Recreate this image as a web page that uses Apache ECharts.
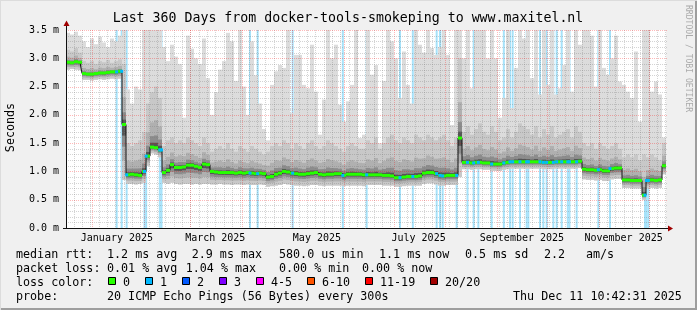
<!DOCTYPE html>
<html><head><meta charset="utf-8">
<script src="https://cdn.jsdelivr.net/npm/echarts@6/dist/echarts.min.js"></script>
<style>html,body{margin:0;padding:0;background:#f0f0f0}#c{width:697px;height:310px}</style>
</head><body><div id="c"></div><script>
// ---------- data ----------
const START = Date.UTC(2024, 11, 16, 10, 42, 31);   // left edge of graph
const SPAN_DAYS = 360;
const STEP = 2.4;                                    // days per smoke column

const median = [
2.93,2.92,2.94,2.93,
2.73,2.72,2.72,2.73,2.74,2.74,2.75,2.76,2.76,2.77,
1.83,
0.94,0.95,0.94,0.93,1.00,
1.27,1.43,1.42,1.38,
0.98,1.02,1.12,1.07,1.07,1.08,1.11,1.11,1.09,1.07,1.13,1.12,
1.00,0.99,0.98,0.98,0.98,0.98,0.97,0.98,0.97,0.98,0.97,0.96,0.97,0.96,
0.90,0.91,0.95,0.97,1.00,0.99,0.97,0.96,0.95,0.95,0.96,0.97,0.98,0.95,0.94,0.95,0.95,0.96,0.96,0.93,0.95,0.95,0.95,0.95,0.94,
0.94,0.94,0.94,0.94,0.93,0.93,0.92,0.89,0.89,0.90,0.91,0.91,0.91,0.92,0.97,0.98,0.98,0.96,0.93,0.92,0.93,0.93,0.93,
1.59,
1.16,1.16,1.15,1.16,1.16,1.15,1.15,1.13,1.13,1.13,1.15,1.16,1.17,1.17,1.17,1.17,1.17,1.17,1.17,1.17,1.16,1.16,1.16,1.17,1.17,1.17,1.17,1.17,1.17,1.18,
1.04,1.03,1.03,1.02,1.03,1.01,1.01,1.05,1.06,1.06,
0.85,0.85,0.84,0.84,0.84,0.58,0.84,0.85,0.84,0.85,1.10
];
const smokeLo = [
2.80,2.81,2.80,2.79,
2.62,2.62,2.61,2.62,2.63,2.62,2.63,2.64,2.63,2.64,
0.85,
0.78,0.78,0.77,0.78,0.80,
1.10,1.32,1.30,1.25,
0.80,0.78,0.80,0.78,0.77,0.78,0.78,0.77,0.78,0.77,0.78,0.78,
0.77,0.77,0.78,0.77,0.77,0.76,0.77,0.77,0.76,0.77,0.76,0.76,0.77,0.76,
0.73,0.74,0.75,0.76,0.78,0.77,0.76,0.75,0.75,0.74,0.75,0.76,0.76,0.75,0.74,0.75,0.75,0.75,0.75,0.74,0.75,0.75,0.75,0.75,0.74,
0.76,0.76,0.76,0.76,0.75,0.75,0.75,0.73,0.73,0.74,0.75,0.75,0.75,0.75,0.78,0.79,0.79,0.77,0.75,0.75,0.76,0.76,0.76,
0.90,
1.04,1.04,1.03,1.04,1.04,1.03,1.03,1.01,1.01,1.01,1.03,1.04,1.05,1.05,1.05,1.05,1.05,1.05,1.05,1.05,1.04,1.04,1.04,1.05,1.05,1.05,1.05,1.05,1.05,1.06,
0.86,0.85,0.85,0.84,0.85,0.83,0.83,0.86,0.87,0.87,
0.71,0.71,0.70,0.70,0.70,0.50,0.70,0.71,0.70,0.71,0.95
];
const smokeHi = [
3.15,3.12,3.18,3.10,
2.95,2.92,2.95,2.90,2.95,2.93,2.97,2.92,2.95,2.98,
2.90,
1.50,1.45,1.50,1.55,1.70,
2.20,2.40,2.50,2.30,
1.45,1.55,1.60,1.50,1.55,1.50,1.60,1.55,1.50,1.45,1.60,1.50,
1.35,1.40,1.45,1.40,1.50,1.40,1.35,1.45,1.40,1.35,1.45,1.40,1.35,1.30,
1.35,1.45,1.50,1.45,1.55,1.50,1.40,1.50,1.45,1.40,1.50,1.55,1.45,1.40,1.45,1.55,1.50,1.45,1.40,1.35,1.45,1.50,1.45,1.40,1.40,
1.55,1.50,1.60,1.40,1.50,1.60,1.65,1.55,1.50,1.60,1.55,1.50,1.65,1.60,1.55,1.65,1.60,1.55,1.60,1.65,1.55,1.45,1.60,
3.00,
1.70,1.80,1.65,1.75,1.85,1.70,1.65,1.80,1.70,1.55,1.60,1.75,1.60,1.70,1.85,1.80,1.75,1.65,1.80,1.60,1.75,1.65,1.80,1.60,1.65,1.70,
1.75,1.60,1.80,1.70,
1.50,1.45,1.50,1.40,1.50,1.45,1.40,1.45,1.50,1.40,
1.25,1.30,1.25,1.30,1.20,1.30,1.25,1.30,1.25,1.20,1.50
];
const smokeMax = [
3.45,3.42,3.47,3.40,
3.30,3.20,3.35,3.25,3.38,3.28,3.20,3.35,3.30,3.40,
3.50,
2.45,2.20,2.50,2.45,3.50,
3.50,3.50,3.50,3.50,
3.20,2.95,3.24,3.03,2.90,1.95,3.40,3.17,3.00,2.90,3.35,2.65,
2.00,2.40,2.80,2.95,3.45,3.30,2.60,3.50,2.50,2.00,3.30,2.70,2.20,1.75,
1.55,2.53,2.77,2.88,2.83,3.50,2.03,3.06,3.06,2.53,2.47,3.24,2.41,1.65,2.27,3.50,3.00,3.24,2.18,1.88,2.24,2.53,3.50,1.59,1.65,
3.50,2.71,2.88,1.50,2.60,3.50,3.30,3.00,2.30,3.12,2.53,2.20,3.50,3.24,3.10,3.50,3.18,3.06,3.20,3.50,3.06,1.82,3.50,
3.50,
3.00,3.50,2.47,3.50,3.50,3.50,3.00,3.50,3.00,1.95,2.30,3.50,2.12,2.83,3.50,3.35,3.50,2.65,3.50,2.36,3.50,2.53,3.50,2.36,2.47,2.88,
3.50,2.41,3.50,3.24,3.50,3.50,3.40,2.50,3.50,2.83,2.71,3.00,3.40,2.59,2.53,2.41,2.30,3.12,1.88,3.50,3.50,2.41,2.59,2.36,1.60
];
// days (since START) of intervals with 1/20 packet loss
const lossDays = [30.4,33.4,36.4,47.1,48.1,56.3,57.3,110.4,115.0,136.0,166.1,180.4,200.4,208.1,222.4,224.4,226.0,234.4,
240.9,244.6,247.4,255.4,262.7,266.4,268.0,272.4,276.4,277.4,284.4,286.4,288.4,292.4,294.4,297.4,301.1,302.1,306.4,319.4,326.4,347.4,348.3,349.4];

const xTickLabels = ['January 2025','March 2025','May 2025','July 2025','September 2025','November 2025'];
const xTickMonths = [[2025,0],[2025,2],[2025,4],[2025,6],[2025,8],[2025,10]];
const monthStarts = [[2025,0],[2025,1],[2025,2],[2025,3],[2025,4],[2025,5],[2025,6],[2025,7],[2025,8],[2025,9],[2025,10],[2025,11]];

const title = 'Last 360 Days from docker-tools-smokeping to www.maxitel.nl';
const statRtt = [['median rtt:',16],['1.2 ms avg',107],['2.9 ms max',191.7],['580.0 us min',279],['1.1 ms now',379],['0.5 ms sd',465],['2.2',544],['am/s',586]];
const statLoss = [['packet loss:',16],['0.01 % avg',107],['1.04 % max',185.7],['0.00 % min',279],['0.00 % now',362]];
const lossLegend = [['0','#26ff00',108],['1','#00b8ff',145],['2','#0059ff',182],['3','#7e00ff',219],['4-5','#ff00ff',256],['6-10','#ff5500',307],['11-19','#ff0000',365],['20/20','#a10000',430]];
const probeText = [['probe:',16],['20 ICMP Echo Pings (56 Bytes) every 300s',107],['Thu Dec 11 10:42:31 2025',513]];

// ---------- helpers ----------
const DAY = 86400000;
const dayOf = t => (t - START) / DAY;
const labelDays = xTickMonths.map(([y,m]) => dayOf(Date.UTC(y,m,16)));
const majorDays = monthStarts.map(([y,m]) => dayOf(Date.UTC(y,m,1)));
const minorDays = [];
for (let t = Date.UTC(2024,11,16); dayOf(t) <= SPAN_DAYS; t += 5*DAY) { if (dayOf(t) >= 0) minorDays.push(dayOf(t)); }

const GL = 66, GT = 30, GW = 600, GH = 198;
const MONO = '"DejaVu Sans Mono", monospace';
const f = s => s + 'px ' + MONO;
const RED_GRID = 'rgba(255,0,0,0.28)', GRAY_GRID = 'rgba(120,120,120,0.32)';

const smokeData = median.map((m,i) => [(i+0.5)*STEP, m, smokeLo[i], smokeHi[i], smokeMax[i]]);
const medData = median.map((m,i) => [(i+0.5)*STEP, m]);
const lossDotData = lossDays.map(d => [d, median[Math.min(median.length-1, Math.floor(d/STEP))]]);
const gridData = minorDays.map(d => [d, 0]).concat(majorDays.map(d => [d, 1]));
const hGridData = [];
for (let k = 0; k <= 35; k++) hGridData.push([k/10, k % 5 === 0 ? 1 : 0]);

const chart = echarts.init(document.getElementById('c'), null, {renderer:'canvas'});

const graphic = [];
// frame
graphic.push({type:'rect', shape:{x:695, y:0, width:2, height:310}, style:{fill:'#9e9e9e'}, z:100});
graphic.push({type:'rect', shape:{x:0, y:308, width:697, height:2}, style:{fill:'#9e9e9e'}, z:100});
graphic.push({type:'rect', shape:{x:0, y:0, width:697, height:1}, style:{fill:'#dcdcdc'}, z:100});
graphic.push({type:'rect', shape:{x:0, y:0, width:1, height:310}, style:{fill:'#dcdcdc'}, z:100});
// axes + arrows
graphic.push({type:'line', shape:{x1:GL+0.5, y1:GT+GH+1, x2:GL+0.5, y2:GT-4}, style:{stroke:'#101010', lineWidth:1}, z:100});
graphic.push({type:'line', shape:{x1:GL-3, y1:GT+GH+0.5, x2:GL+GW+2, y2:GT+GH+0.5}, style:{stroke:'#101010', lineWidth:1}, z:100});
graphic.push({type:'polygon', shape:{points:[[GL-2.5,GT-4],[GL+3.5,GT-4],[GL+0.5,GT-9.5]]}, style:{fill:'#a00000'}, z:100});
graphic.push({type:'polygon', shape:{points:[[GL+GW+2,GT+GH-2.5],[GL+GW+2,GT+GH+3.5],[GL+GW+7,GT+GH+0.5]]}, style:{fill:'#a00000'}, z:100});
// texts
const txt = (text, x, y, size, opts) => Object.assign({type:'text', x, y, z:100,
  style:Object.assign({text, font:f(size), fill:'#000', align:'left', verticalAlign:'middle'}, (opts&&opts.style)||{})}, (opts&&opts.el)||{});
graphic.push(txt(title, 348, 18.5, 13.25, {style:{align:'center'}}));
graphic.push(txt('Seconds', 11, 127.5, 11.7, {style:{align:'center'}, el:{rotation:Math.PI/2}}));
graphic.push(txt('RRDTOOL / TOBI OETIKER', 688.5, 58.5, 8.1, {style:{align:'center', fill:'#aaaaaa'}, el:{rotation:-Math.PI/2}}));
statRtt.forEach(([t,x]) => graphic.push(txt(t, x, 254.5, 11.7)));
statLoss.forEach(([t,x]) => graphic.push(txt(t, x, 268.7, 11.7)));
graphic.push(txt('loss color:', 16, 282.5, 11.7));
lossLegend.forEach(([t,c,x]) => {
  graphic.push({type:'rect', shape:{x:x+0.5, y:277.5, width:7, height:7}, style:{fill:c, stroke:'#000', lineWidth:1}, z:100});
  graphic.push(txt(t, x+15, 282.5, 11.7));
});
probeText.forEach(([t,x]) => graphic.push(txt(t, x, 296.7, 11.7)));

const option = {
  backgroundColor:'#f0f0f0',
  animation:false,
  grid:{left:GL, top:GT, width:GW, height:GH, show:true, backgroundColor:'#ffffff', borderWidth:0},
  xAxis:{type:'value', min:0, max:SPAN_DAYS, z:3,
    axisLine:{show:false}, axisTick:{show:false}, splitLine:{show:false},
    axisLabel:{customValues:labelDays, margin:5, color:'#000', fontFamily:MONO, fontSize:10,
      formatter:v => { let k = 0, b = 1e9; labelDays.forEach((d,i)=>{ if (Math.abs(d-v) < b) { b = Math.abs(d-v); k = i; } }); return xTickLabels[k]; }}},
  yAxis:{type:'value', min:0, max:3.5, interval:0.5, z:3,
    axisLine:{show:false}, axisTick:{show:false}, splitLine:{show:false},
    axisLabel:{formatter:v => v.toFixed(1) + ' m', color:'#000', fontFamily:MONO, fontSize:10, margin:7}},
  series:[
    { // loss bars
      type:'custom', z:1, clip:true, silent:true, data:lossDays.map(d => [d, 3.5]),
      renderItem:(p, api) => {
        const a = api.coord([api.value(0), 0]), b = api.coord([api.value(0), api.value(1)]);
        return {type:'rect', shape:{x:a[0]-1, y:b[1], width:2, height:a[1]-b[1]}, style:{fill:'#a6e2fa'}};
      }},
    { // smoke
      type:'custom', z:2, clip:true, silent:true, data:smokeData,
      renderItem:(p, api) => {
        const c = api.value(0), m = api.value(1), lo = api.value(2), hi = api.value(3), mx = api.value(4);
        const xa = api.coord([c-STEP/2, 0])[0], xb = api.coord([c+STEP/2, 0])[0];
        const Y = v => api.coord([c, v])[1];
        const band = (a, b, fill) => ({type:'rect', shape:{x:xa, y:Y(b), width:xb-xa, height:Y(a)-Y(b)}, style:{fill}});
        return {type:'group', children:[
          band(lo, mx, '#dcdcdc'),
          band(lo, hi, '#c8c8c8'),
          band(m-0.65*(m-lo), m+0.45*(hi-m), '#b0b0b0'),
          band(m-0.4*(m-lo), m+0.2*(hi-m), '#8c8c8c'),
          band(m-0.2*(m-lo), m+0.08*(hi-m), '#555555')
        ]};
      }},
    { // vertical grid
      type:'custom', z:3, clip:false, silent:true, data:gridData,
      renderItem:(p, api) => {
        const x = Math.round(api.coord([api.value(0), 0])[0]) + 0.5;
        const cs = p.coordSys;
        const major = api.value(1) === 1;
        return {type:'line', shape:{x1:x, y1:cs.y, x2:x, y2:cs.y+cs.height},
          style:{stroke: major ? RED_GRID : GRAY_GRID, lineWidth:1, lineDash:[1,1]}};
      }},
    { // horizontal grid
      type:'custom', z:3, clip:false, silent:true, data:hGridData,
      renderItem:(p, api) => {
        const y = Math.round(api.coord([0, api.value(0)])[1]) + 0.5;
        const cs = p.coordSys;
        const major = api.value(1) === 1;
        return {type:'line', shape:{x1:cs.x, y1:y, x2:cs.x+cs.width+2, y2:y},
          style:{stroke: major ? RED_GRID : GRAY_GRID, lineWidth:1, lineDash:[1,1]}};
      }},
    { // step connector
      type:'line', z:4, silent:true, data:medData, step:'middle', symbol:'none',
      lineStyle:{color:'#151515', width:1}},
    { // median
      type:'custom', z:5, clip:true, silent:true, data:medData,
      renderItem:(p, api) => {
        const c = api.value(0), m = api.value(1);
        const a = api.coord([c-STEP/2, m]), b = api.coord([c+STEP/2, m]);
        return {type:'rect', shape:{x:a[0], y:a[1]-1.5, width:b[0]-a[0], height:3}, style:{fill:'#26ff00'}};
      }},
    { // loss-coloured median points
      type:'custom', z:6, clip:true, silent:true, data:lossDotData,
      renderItem:(p, api) => {
        const a = api.coord([api.value(0), api.value(1)]);
        return {type:'rect', shape:{x:a[0]-1.5, y:a[1]-1.5, width:3, height:3}, style:{fill:'#00b8ff'}};
      }}
  ],
  graphic
};
chart.setOption(option);
</script></body></html>
